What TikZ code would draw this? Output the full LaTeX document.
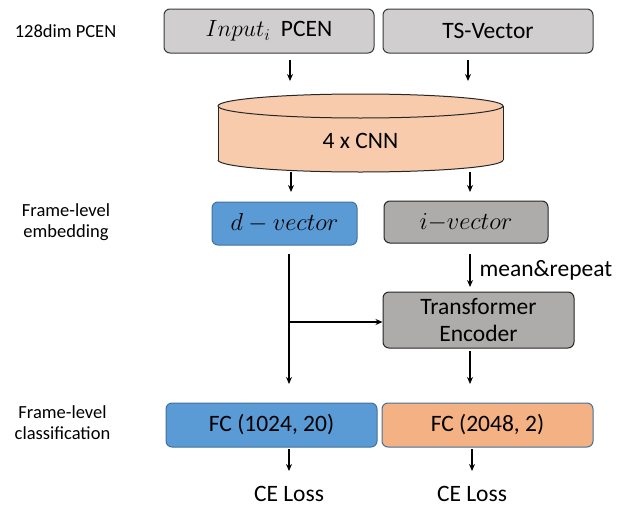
\documentclass[tikz,border=0pt]{standalone}
\usepackage{fix-cm}
\usepackage{fontspec}
\setmainfont{Carlito}
\usetikzlibrary{arrows.meta,calc}
\definecolor{boxgray}{HTML}{D0CECE}
\definecolor{darkgray}{HTML}{AEABAB}
\definecolor{edgegray}{HTML}{3A3A3A}
\definecolor{blfill}{HTML}{5B9BD5}
\definecolor{bledge}{HTML}{41719C}
\definecolor{orfill}{HTML}{F4B183}
\definecolor{cylfill}{HTML}{F8CBAD}
\tikzset{
  bx/.style={rounded corners=6pt, line width=1pt, inner sep=0pt, align=center,
    font=\fontsize{23.5}{28}\selectfont},
  graybox/.style={bx, fill=boxgray, draw=edgegray},
  dgraybox/.style={bx, fill=darkgray, draw=black!85},
  bluebox/.style={bx, fill=blfill, draw=bledge},
  orbox/.style={bx, fill=orfill, draw=bledge},
  arr/.style={line width=1.2pt, -{Stealth[length=7pt,width=6pt]}},
  side/.style={align=center, font=\fontsize{18.5}{21}\selectfont},
  plain/.style={font=\fontsize{23.5}{28}\selectfont, inner sep=0pt},
}
\begin{document}
\begin{tikzpicture}[x=1pt,y=-1pt]
\useasboundingbox (0,0) rectangle (626,506);
% left labels
\node[side] (l1) at (65.5,31) {128dim PCEN};
\node[side] (l2) at (66,222) {Frame-level\\embedding};
\node[side] (l3) at (62.5,422.5) {Frame-level\\classification};
% top boxes
\node[graybox, minimum width=210pt, minimum height=44pt] (inp) at (269,31) {$Input_i$\ \ PCEN};
\node[graybox, minimum width=210pt, minimum height=44pt] (ts) at (488,31) {TS-Vector};
% cylinder
\fill[cylfill] (360.5,160) ellipse [x radius=142.5pt, y radius=12pt];
\fill[cylfill] (218,106) rectangle (503,160);
\begin{scope}
  \clip (200,160) rectangle (520,190);
  \draw[line width=1pt, black!85] (360.5,160) ellipse [x radius=142.5pt, y radius=12pt];
\end{scope}
\draw[line width=1pt, black!85] (218,106) -- (218,160) (503,106) -- (503,160);
\draw[line width=1pt, black!85, fill=cylfill] (360.5,106) ellipse [x radius=142.5pt, y radius=12pt];
\node[plain] (cnn) at (360.5,141) {4 x CNN};
% middle boxes
\node[bluebox, minimum width=145pt, minimum height=43pt, font=\fontsize{24.5}{28}\selectfont] (dv) at (284.5,223.5) {$d-vector$};
\node[dgraybox, minimum width=164pt, minimum height=42pt, font=\fontsize{24.5}{28}\selectfont] (iv) at (466,222) {$i{-}vector$};
\node[dgraybox, minimum width=191pt, minimum height=56pt, font=\fontsize{23.5}{27}\selectfont] (tr) at (478.5,320) {Transformer\\Encoder};
% bottom boxes
\node[bluebox, minimum width=211pt, minimum height=44pt] (fc1) at (271.5,425) {FC (1024, 20)};
\node[orbox, minimum width=211pt, minimum height=44pt] (fc2) at (487.5,425) {FC (2048, 2)};
\node[plain] (ce1) at (289,494) {CE Loss};
\node[plain] (ce2) at (472,494) {CE Loss};
% arrow coordinates
\coordinate (a1s) at (290,60); \coordinate (a1e) at (290,81);
\coordinate (a2s) at (468,60); \coordinate (a2e) at (468,81);
\coordinate (b1s) at (291,172); \coordinate (b1e) at (291,192);
\coordinate (b2s) at (470,172); \coordinate (b2e) at (470,192);
\coordinate (ms) at (470,254); \coordinate (me) at (470,287);
\coordinate (ds) at (289,254); \coordinate (de) at (289,384);
\coordinate (br) at (289,322);
\coordinate (ts2) at (470,351); \coordinate (te2) at (470,384);
\coordinate (c1s) at (289,449); \coordinate (c1e) at (289,471);
\coordinate (c2s) at (472,449); \coordinate (c2e) at (472,471);
% arrows
\draw[arr] (a1s) -- (a1e);
\draw[arr] (a2s) -- (a2e);
\draw[arr] (b1s) -- (b1e);
\draw[arr] (b2s) -- (b2e);
\draw[arr] (ms) -- (me) node[midway, right=9pt, plain] (mr) {mean\&repeat};
\draw[arr] (ds) -- (de);
\draw[arr] (br) -- (br -| tr.west);
\draw[arr] (ts2) -- (te2);
\draw[arr] (c1s) -- (c1e);
\draw[arr] (c2s) -- (c2e);
\end{tikzpicture}
\end{document}
